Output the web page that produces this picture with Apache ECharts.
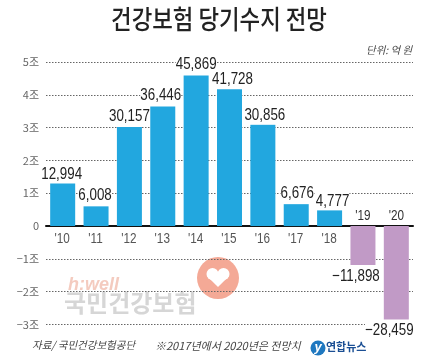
<!DOCTYPE html>
<html><head><meta charset="utf-8">
<style>html,body{margin:0;padding:0;background:#fff}#c{width:432px;height:363px}</style>
<script src="https://cdn.jsdelivr.net/npm/echarts@6/dist/echarts.min.js"></script>
</head><body><div id="c"></div>
<script>
const categories = ["'10","'11","'12","'13","'14","'15","'16","'17","'18","'19","'20"];
const values = [12994,6008,30157,36446,45869,41728,30856,6676,4777,-11898,-28459];
const labelTexts = ["12,994","6,008","30,157","36,446","45,869","41,728","30,856","6,676","4,777","−11,898","−28,459"];
const labelShiftX = [-1,-1,0,-2,0,3,2,1,3,-7,-7];
const labelGap = [9,11,11,11,11,10,9,11,9,11,11.5];
const upperTickCats = ["'19","'20"];
const yTicks = {"50000":"5조","40000":"4조","30000":"3조","20000":"2조","10000":"1조","0":"0","-10000":"−1조","-20000":"−2조","-30000":"−3조"};
const chart = echarts.init(document.getElementById('c'),null,{renderer:'canvas'});
const latin = '"Liberation Sans",sans-serif';
const kr = '"Noto Sans CJK KR",sans-serif';
const squeeze = 0.81;
function renderValueLabel(params, api){
  const i = params.dataIndex, v = api.value(1);
  const pt = api.coord([i, v]);
  return {type:'text', x:pt[0]+labelShiftX[i], y:pt[1]+(v<0?labelGap[i]:-labelGap[i]), scaleX:squeeze,
    style:{text:labelTexts[i], align:'center', verticalAlign:'middle', fontFamily:latin, fontSize:16.5, fill:'#222', backgroundColor:'#fff'}};
}
function renderTickLabel(params, api){
  const i = params.dataIndex, up = upperTickCats.includes(categories[i]);
  const pt = api.coord([i, 0]);
  return {type:'text', x:pt[0]-0.5+(up?0.5:0), y:pt[1]+(up?-10:12.5), scaleX:squeeze,
    style:{text:categories[i], align:'center', verticalAlign:'middle', fontFamily:latin, fontSize:14.5, fill:up?'#333':'#555'}};
}
chart.setOption({
  animation:false,
  backgroundColor:'#fff',
  grid:{left:46,right:19,top:62,height:262.5},
  xAxis:{type:'category',data:categories,axisTick:{show:false},
    axisLine:{onZero:true,lineStyle:{color:'#111',width:2}},
    axisLabel:{show:false}},
  yAxis:{type:'value',min:-30000,max:50000,interval:10000,
    axisLine:{show:false},axisTick:{show:false},
    splitLine:{show:true,lineStyle:{color:'#666',type:[1.5,1.5],width:1}},
    axisLabel:{margin:7,color:'#666',fontFamily:kr,fontSize:11,formatter:v=>yTicks[String(v)]}},
  series:[
    {type:'bar',barWidth:25,z:3,data:values.map(v=>({value:v,itemStyle:{color:v<0?'#c19ac6':'#22a7df'}}))},
    {type:'custom',z:4,silent:true,coordinateSystem:'cartesian2d',renderItem:renderValueLabel,data:values.map((v,i)=>[i,v])},
    {type:'custom',z:4,silent:true,coordinateSystem:'cartesian2d',renderItem:renderTickLabel,data:categories.map((c,i)=>[i,0])}
  ],
  graphic:[
    {type:'text',x:219,y:19.5,scaleX:0.86,style:{text:'건강보험 당기수지 전망',align:'center',verticalAlign:'middle',fontFamily:kr,fontSize:26,fontWeight:500,fill:'#222'}},
    {type:'text',z:-1,x:68,y:276,style:{text:'h:well',fontFamily:latin,fontSize:18,fontWeight:'bold',fontStyle:'italic',fill:'#f4cbbf'}},
    {type:'text',z:-1,x:64,y:291,style:{text:'국민건강보험',fontFamily:kr,fontSize:24,fontWeight:'bold',fill:'#d6d6d6'}},
    {type:'circle',z:-1,shape:{cx:218,cy:278,r:21},style:{fill:'#f4a996'}},
    {type:'circle',z:-1,shape:{cx:212.5,cy:274,r:6},style:{fill:'#fff'}},
    {type:'circle',z:-1,shape:{cx:223.5,cy:274,r:6},style:{fill:'#fff'}},
    {type:'polygon',z:-1,shape:{points:[[206.8,276],[218,272],[229.2,276],[218,287]]},style:{fill:'#fff'}},
    {type:'text',x:366,y:45,style:{text:'단위: 억 원',fontFamily:kr,fontSize:10.5,fontStyle:'italic',fill:'#444'}},
    {type:'text',x:32,y:340,style:{text:'자료/ 국민건강보험공단',fontFamily:kr,fontSize:10.5,fontStyle:'italic',fill:'#444'}},
    {type:'text',x:155,y:340,style:{text:'※2017년에서 2020년은 전망치',fontFamily:kr,fontSize:11,fontStyle:'italic',fill:'#444'}},
    {type:'circle',shape:{cx:318,cy:348,r:7.5},style:{fill:'#1f78c0'}},
    {type:'text',x:318,y:347,style:{text:'y',align:'center',verticalAlign:'middle',fontFamily:latin,fontSize:13,fontWeight:'bold',fontStyle:'italic',fill:'#fff'}},
    {type:'text',x:326,y:341,style:{text:'연합뉴스',fontFamily:kr,fontSize:11,fontWeight:'bold',fill:'#1b4f94'}}
  ]
});
</script></body></html>
